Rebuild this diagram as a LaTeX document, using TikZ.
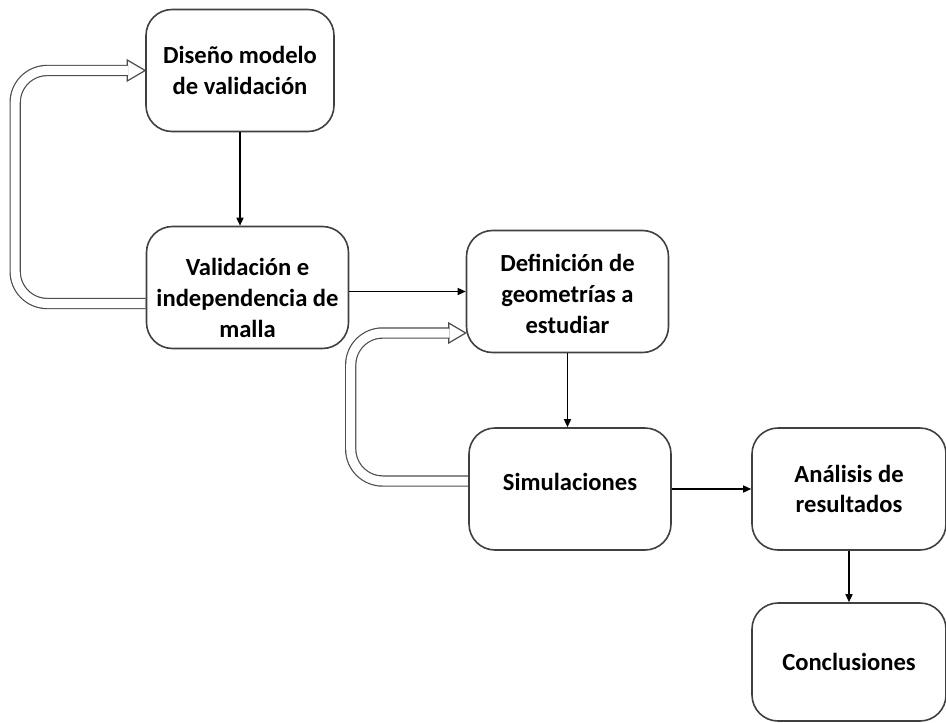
\documentclass[tikz,border=0pt]{standalone}
\usepackage{fontspec}
\setmainfont{Carlito}
\usepackage{tikz}
\usetikzlibrary{positioning, arrows.meta, calc}
\pgfdeclarelayer{background}
\pgfsetlayers{background,main}
\newcommand{\stagefont}{\fontsize{12.3}{15.3}\selectfont\bfseries}

\begin{document}
\begin{tikzpicture}[x=0.5pt, y=-0.5pt,
  stage/.style={draw=black!75, line width=0.8pt, fill=white, rounded corners=13pt,
                minimum width=101pt, minimum height=61pt, inner sep=0pt,
                font=\stagefont, align=center},
  flow/.style={-{Triangle[length=4pt, width=3.5pt]}, line width=0.7pt},
  loop/.style={draw=black!70, line width=0.6pt, double=white,
               double distance=4.5pt, rounded corners=16pt},
  loophead/.style={draw=black!70, line width=0.6pt, fill=white, line join=miter}
]
  \useasboundingbox (0,0) rectangle (946,722);

  \node[stage, minimum width=94pt] (diseno)   at (240,70.5)  {Diseño modelo\\de validación};
  \node[stage, text height=49.6pt, text depth=0pt] (valid) at (247.5,287.5)
       {Validación e\\independencia de\\malla};
  \node[stage, text height=41.6pt, text depth=0pt] (defin) at (567.5,291.5)
       {Definición de\\geometrías a\\estudiar};
  \node[stage, text height=6pt, text depth=4.8pt] (simul) at (570,489) {Simulaciones};
  \node[stage, minimum width=97pt] (analisis) at (849,489)   {Análisis de\\resultados};
  \node[stage, minimum width=97pt, minimum height=59pt] (concl) at (849,662) {Conclusiones};

  \draw[flow] (diseno.south) -- (diseno.south |- valid.north);
  \draw[flow] (valid.east |- defin.west) -- (defin.west);
  \draw[flow] (defin.south) -- (defin.south |- simul.north);
  \draw[flow] (simul) -- (analisis);
  \draw[flow] (analisis) -- (concl);

  % lazos de retorno
  \begin{pgfonlayer}{background}
    \draw[loophead] (diseno.west) -- ++(-18,-10.5) -- ++(0,21) -- cycle;
    \draw[loop] ($(valid.west)+(0,16)$) -| ($(diseno.west)+(-130,0)$)
                -- ($(diseno.west)+(-17,0)$);
    \draw[loophead] ($(defin.west)+(0,41.5)$) -- ++(-17,-10) -- ++(0,20) -- cycle;
    \draw[loop] ($(simul.west)+(0,-8)$) -| ($(defin.west)+(-115,41.5)$)
                -- ($(defin.west)+(-16,41.5)$);
  \end{pgfonlayer}
\end{tikzpicture}
\end{document}
